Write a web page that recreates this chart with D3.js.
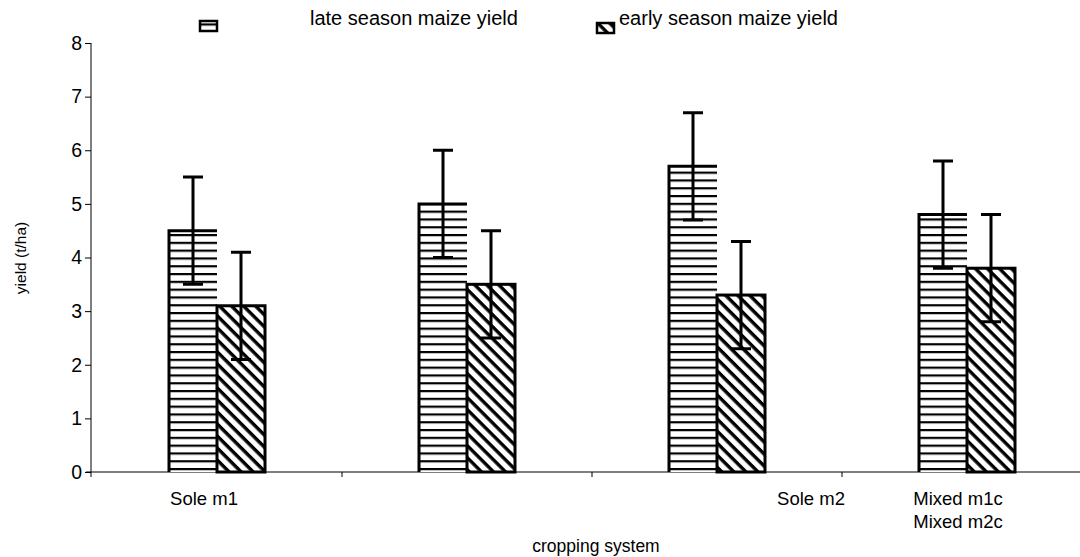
<!DOCTYPE html>
<html>
<head>
<meta charset="utf-8">
<script src="https://cdn.jsdelivr.net/npm/d3@7/dist/d3.min.js"></script>
<style>
  html, body { margin: 0; padding: 0; background: #fff; }
  svg { display: block; font-family: "Liberation Sans", Arial, sans-serif; }
</style>
</head>
<body>
<svg id="chart" width="1080" height="557"></svg>
<script>
// Maize yield by cropping system (t/ha), with error bars
const categories = ["Sole m1", "Mixed m1c", "Sole m2", "Mixed m2c"];
const lateYield  = [4.5, 5.0, 5.7, 4.8];
const earlyYield = [3.1, 3.5, 3.3, 3.8];
const lateError  = [1.0, 1.0, 1.0, 1.0];
const earlyError = [1.0, 1.0, 1.0, 1.0];
const yTicks = [0, 1, 2, 3, 4, 5, 6, 7, 8];
const tickLabelLines = [["Sole m1"], [], ["Sole m2"], ["Mixed m1c", "Mixed m2c"]];
const seriesNames = ["late season maize yield", "early season maize yield"];

const svg = d3.select("#chart");

// fill patterns: horizontal hatching for late, diagonal hatching for early
const defs = svg.append("defs");
const pH = defs.append("pattern")
  .attr("id", "hatchH").attr("patternUnits", "userSpaceOnUse")
  .attr("width", 8).attr("height", 7.8);
pH.append("rect").attr("width", 8).attr("height", 7.8).attr("fill", "#fff");
pH.append("rect").attr("y", 0).attr("width", 8).attr("height", 2.2).attr("fill", "#000");

const pD = defs.append("pattern")
  .attr("id", "hatchD").attr("patternUnits", "userSpaceOnUse")
  .attr("width", 8.5).attr("height", 8.5)
  .attr("patternTransform", "rotate(45)");
pD.append("rect").attr("width", 8.5).attr("height", 8.5).attr("fill", "#fff");
pD.append("rect").attr("width", 8.5).attr("height", 3.4).attr("fill", "#000");

const x = d3.scaleBand().domain(categories).range([92, 1092]).padding(0);
const y = d3.scaleLinear().domain([0, 8]).range([472, 43]);
const barW = 48;

// y axis
const yAxis = svg.append("g").attr("transform", "translate(91,0)")
  .call(d3.axisLeft(y).tickValues(yTicks).tickSize(6).tickPadding(3).tickFormat(d3.format("d")));
yAxis.select(".domain").attr("d", `M0,${y(8)}V${y(0) + 5}`).attr("stroke", "#000");
yAxis.selectAll(".tick line").attr("stroke", "#000");
yAxis.selectAll(".tick text").attr("font-size", 19.5).attr("fill", "#000")
  .attr("font-family", "'Liberation Sans', Arial, sans-serif");

// x axis
const bounds = categories.slice(1).map(c => x(c));
const xAxis = svg.append("g").attr("transform", `translate(0,${y(0)})`);
xAxis.append("line").attr("x1", 86).attr("x2", 1080).attr("y1", 0).attr("y2", 0)
  .attr("stroke", "#000").attr("stroke-width", 1.2);
xAxis.selectAll("line.tk").data(bounds).join("line").attr("class", "tk")
  .attr("x1", d => d).attr("x2", d => d).attr("y1", 0).attr("y2", 5)
  .attr("stroke", "#000");

// category labels
const labelShift = [-13, 0, 94, -9];
categories.forEach((c, i) => {
  const cx = x(c) + x.bandwidth() / 2 + labelShift[i];
  tickLabelLines[i].forEach((t, j) => {
    svg.append("text").attr("x", cx).attr("y", 505 + j * 23)
      .attr("text-anchor", "middle").attr("font-size", 18.5).attr("fill", "#000").text(t);
  });
});

// axis titles
svg.append("text").attr("x", 596).attr("y", 552).attr("text-anchor", "middle")
  .attr("font-size", 17.5).attr("fill", "#000").text("cropping system");
svg.append("text").attr("transform", `translate(26,${258}) rotate(-90)`)
  .attr("text-anchor", "middle").attr("font-size", 15.5).attr("fill", "#000").text("yield (t/ha)");

// bars
const groups = svg.append("g").selectAll("g").data(categories).join("g");
const lateX = c => x(c) + x.bandwidth() / 2 - barW;
const earlyX = c => x(c) + x.bandwidth() / 2;

// late season: horizontal hatching with left and top edges
groups.append("rect")
  .attr("x", c => lateX(c)).attr("width", barW)
  .attr("y", (c, i) => y(lateYield[i])).attr("height", (c, i) => y(0) - y(lateYield[i]))
  .attr("fill", "url(#hatchH)");
groups.append("path")
  .attr("d", (c, i) => `M${lateX(c)},${y(0)}V${y(lateYield[i])}H${lateX(c) + barW}`)
  .attr("fill", "none").attr("stroke", "#000").attr("stroke-width", 3);

// early season: diagonal hatching with full outline
groups.append("rect")
  .attr("x", c => earlyX(c)).attr("width", barW)
  .attr("y", (c, i) => y(earlyYield[i])).attr("height", (c, i) => y(0) - y(earlyYield[i]))
  .attr("fill", "url(#hatchD)").attr("stroke", "#000").attr("stroke-width", 3);

// error bars
function errorBar(g, cxFn, vals, errs) {
  g.append("path")
    .attr("d", (c, i) => {
      const cx = cxFn(c);
      const top = y(vals[i] + errs[i]), bot = y(vals[i] - errs[i]);
      return `M${cx},${bot}V${top}M${cx - 10},${top}H${cx + 10}M${cx - 10},${bot}H${cx + 10}`;
    })
    .attr("fill", "none").attr("stroke", "#000").attr("stroke-width", 3);
}
errorBar(groups, c => lateX(c) + barW / 2, lateYield, lateError);
errorBar(groups, c => earlyX(c) + barW / 2, earlyYield, earlyError);

// legend
const legend = svg.append("g");
const legendItems = [
  { name: seriesNames[0], fill: "url(#hatchH)", sx: 200, sy: 21, tx: 310 },
  { name: seriesNames[1], fill: "url(#hatchD)", sx: 597, sy: 23, tx: 619 }
];
legendItems.forEach(it => {
  legend.append("rect").attr("x", it.sx).attr("y", it.sy).attr("width", 17).attr("height", 10)
    .attr("fill", it.fill).attr("stroke", "#000").attr("stroke-width", 2.5);
  legend.append("text").attr("x", it.tx).attr("y", 25).attr("font-size", 20).attr("fill", "#000")
    .text(it.name);
});
</script>
</body>
</html>
